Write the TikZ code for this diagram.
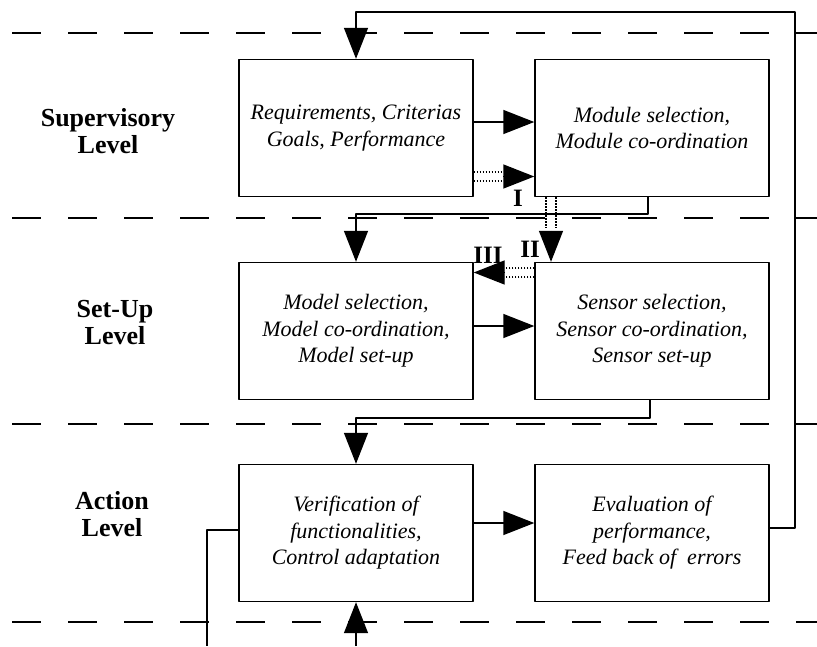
\documentclass[tikz,border=0pt]{standalone}
\usepackage{fontspec}
\setmainfont{Liberation Serif}
\usetikzlibrary{arrows.meta}

\begin{document}
\begin{tikzpicture}[x=1pt,y=-1pt,line join=round,
    blk/.style={draw,line width=1.4pt,minimum width=234pt,minimum height=137pt,align=center,inner sep=0pt,font=\fontsize{22}{26.5}\selectfont\itshape},
    lvl/.style={align=center,inner sep=0pt,font=\fontsize{26}{27}\selectfont\bfseries},
    tag/.style={inner sep=0pt,font=\fontsize{25}{25}\selectfont\bfseries},
    sep/.style={line width=1.4pt,dash pattern=on 29pt off 27pt},
    link/.style={line width=1.4pt},
    bigarr/.style={line width=1.4pt,-{Triangle[length=31pt,width=24pt]}},
    dots/.style={line width=1.3pt,dash pattern=on 1.4pt off 1.6pt}]
  \useasboundingbox (0,0) rectangle (817,646);

  % level separators
  \foreach \y in {33,218,424,622}
    \draw[sep] (12,\y) -- (817,\y);

  % level names
  \node[lvl] (sup) at (108,131) {Supervisory\\Level};
  \node[lvl] (setup) at (115,323) {Set-Up\\Level};
  \node[lvl] (act) at (112,514) {Action\\Level};

  % blocks
  \node[blk] (req) at (356,128) {Requirements, Criterias\\Goals, Performance};
  \node[blk] (mod) at (652,128) {Module selection,\\Module co-ordination};
  \node[blk] (mdl) at (356,331) {Model selection,\\Model co-ordination,\\Model set-up};
  \node[blk] (sen) at (652,331) {Sensor selection,\\Sensor co-ordination,\\Sensor set-up};
  \node[blk] (ver) at (356,533) {Verification of\\functionalities,\\Control adaptation};
  \node[blk] (eva) at (652,533) {Evaluation of\\performance,\\Feed back of~ errors};

  % solid flows
  \draw[bigarr] ([yshift=6pt]req.east) -- ([yshift=6pt]mod.west);
  \draw[bigarr] ([yshift=5pt]mdl.east) -- ([yshift=5pt]sen.west);
  \draw[bigarr] ([yshift=10pt]ver.east) -- ([yshift=10pt]eva.west);

  % feedback loop
  \coordinate (fb) at (795,12);
  \draw[bigarr] ([yshift=5pt]eva.east) -| (fb) -| (req.north);

  \coordinate (k1) at (648,214);
  \draw[bigarr] (mod.south -| k1) -- (k1) -| (mdl.north);
  \coordinate (k2) at (650,418);
  \draw[bigarr] (sen.south -| k2) -- (k2) -| (ver.north);

  \coordinate (k3) at (207,646);
  \draw[link] ([yshift=3pt]ver.west) -| (k3);
  \draw[bigarr] (ver.south |- 0,646) -- (ver.south);

  % dotted flows I, II, III
  \coordinate (tipI) at ([yshift=-48.5pt]mod.west);
  \foreach \d in {-44,-53}
    \draw[dots] ([yshift=\d pt]req.east) -- ++(30,0);
  \draw[bigarr] ([xshift=-31pt]tipI) -- (tipI);

  \coordinate (tipII) at (sen.north -| 551,0);
  \foreach \x in {546,556}
    \draw[dots] (mod.south -| \x,0) -- (\x,228);
  \draw[bigarr] ([yshift=31pt]tipII) -- (tipII);

  \coordinate (tipIII) at (mdl.east |- 0,272.5);
  \foreach \y in {268,277}
    \draw[dots] (sen.west |- 0,\y) -- (505,\y);
  \draw[bigarr] ([xshift=31pt]tipIII) -- (tipIII);

  \node[tag] (lI) at (518,198) {I};
  \node[tag] (lII) at (530,249) {II};
  \node[tag] (lIII) at (488,255) {III};
\end{tikzpicture}
\end{document}
